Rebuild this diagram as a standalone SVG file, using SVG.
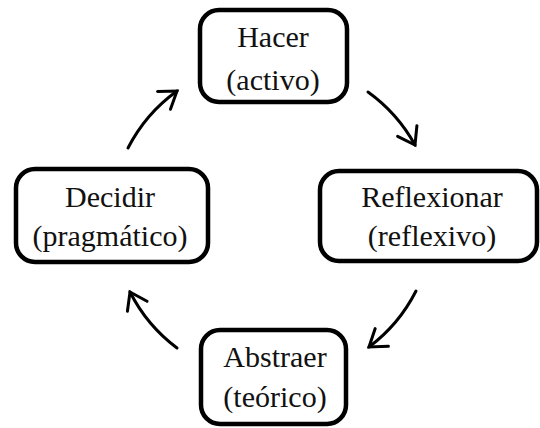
<svg xmlns="http://www.w3.org/2000/svg" width="540" height="428" viewBox="0 0 540 428">
  <style>
    .box { fill: #fff; stroke: #000; stroke-width: 4.5; }
    .lbl { font-family: "Liberation Serif", "Times New Roman", serif; font-size: 30px; fill: #111; text-anchor: middle; }
    .arc { fill: none; stroke: #000; stroke-width: 3; stroke-linecap: round; marker-end: url(#head); }
  </style>
  <defs>
    <marker id="head" markerUnits="userSpaceOnUse" viewBox="-20 -14 24 28" refX="0" refY="0" markerWidth="24" markerHeight="28" orient="auto">
      <path d="M-16,-11 L0,0 L-16,11" fill="none" stroke="#000" stroke-width="3" stroke-linecap="round" stroke-linejoin="miter"/>
    </marker>
  </defs>

  <!-- cycle connectors: arcs of one circle around the centre -->
  <g id="connectors">
    <path class="arc" d="M128,148 A161,161 0 0 1 177,91"/>
    <path class="arc" d="M368,92 A161,161 0 0 1 415,145"/>
    <path class="arc" d="M416,291 A161,161 0 0 1 369,347"/>
    <path class="arc" d="M177,348 A161,161 0 0 1 130,292"/>
  </g>

  <g id="hacer">
    <rect class="box" x="200" y="10" width="147" height="92" rx="19"/>
    <text class="lbl" x="273" y="47">Hacer</text>
    <text class="lbl" x="273" y="90">(activo)</text>
  </g>

  <g id="reflexionar">
    <rect class="box" x="320" y="171" width="217" height="90" rx="19"/>
    <text class="lbl" x="432" y="207">Reflexionar</text>
    <text class="lbl" x="432" y="246">(reflexivo)</text>
  </g>

  <g id="abstraer">
    <rect class="box" x="201" y="330" width="145" height="94" rx="19"/>
    <text class="lbl" x="275" y="367">Abstraer</text>
    <text class="lbl" x="275" y="407">(teórico)</text>
  </g>

  <g id="decidir">
    <rect class="box" x="16" y="169" width="192" height="93" rx="19"/>
    <text class="lbl" x="110" y="207">Decidir</text>
    <text class="lbl" x="110" y="246">(pragmático)</text>
  </g>
</svg>
